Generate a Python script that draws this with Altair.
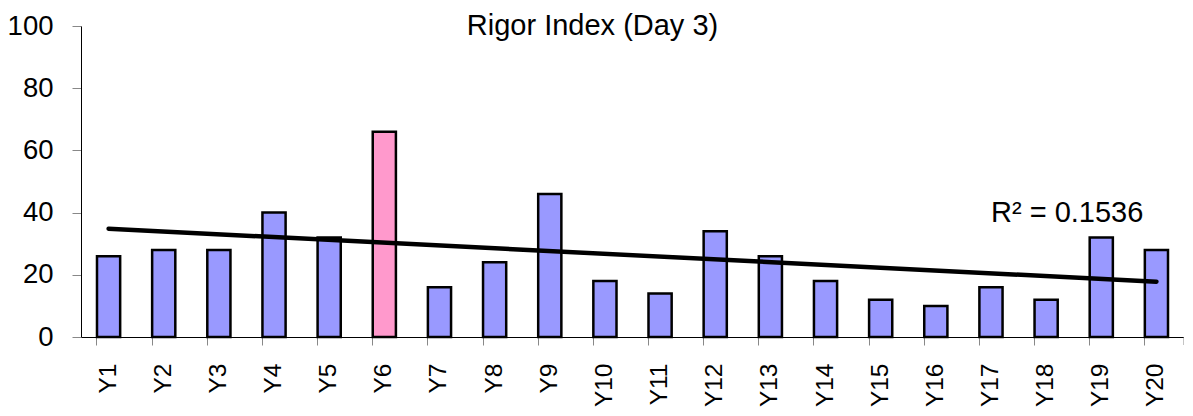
import altair as alt
import pandas as pd

categories = ["Y1", "Y2", "Y3", "Y4", "Y5", "Y6", "Y7", "Y8", "Y9", "Y10",
              "Y11", "Y12", "Y13", "Y14", "Y15", "Y16", "Y17", "Y18", "Y19", "Y20"]
values = [26, 28, 28, 40, 32, 66, 16, 24, 46, 18,
          14, 34, 26, 18, 12, 10, 16, 12, 32, 28]
positions = list(range(1, len(categories) + 1))
highlight = "Y6"
title_text = "Rigor Index (Day 3)"
r2_text = "R\u00b2 = 0.1536"
y_ticks = [0, 20, 40, 60, 80, 100]

FONT = "Liberation Sans"
W, H = 1103, 311
X_DOMAIN = [0.5, len(categories) + 0.5]

df = pd.DataFrame({"cat": categories, "value": values, "idx": positions})

bars = alt.Chart(df).mark_bar(stroke="black", strokeWidth=2.5).encode(
    x=alt.X("cat:N", sort=categories,
            scale=alt.Scale(paddingInner=0.58, paddingOuter=0.29),
            axis=alt.Axis(title=None, labelAngle=-90, labelFontSize=24.5, labelFont=FONT,
                          labelColor="black", labelPadding=18, tickSize=8,
                          tickColor="#888888", domainColor="black", bandPosition=0,
                          grid=False)),
    y=alt.Y("value:Q", scale=alt.Scale(domain=[0, 100], nice=False),
            axis=alt.Axis(title=None, values=y_ticks, labelFontSize=27.5, labelFont=FONT,
                          labelColor="black", labelPadding=19, tickSize=9,
                          tickColor="#888888", domainColor="black", grid=False)),
    color=alt.condition(alt.datum.cat == highlight, alt.value("#FF99CC"), alt.value("#9999FF")),
)

xq = alt.Scale(domain=X_DOMAIN, nice=False, zero=False)

trend = alt.Chart(df).transform_regression("idx", "value").mark_line(
    color="black", strokeWidth=4.5, strokeCap="round"
).encode(
    x=alt.X("idx:Q", scale=xq, axis=None),
    y=alt.Y("value:Q", scale=alt.Scale(domain=[0, 100], nice=False)),
)

end_tick = alt.Chart(pd.DataFrame({"e": [X_DOMAIN[1]]})).mark_rule(
    color="#888888", strokeWidth=1
).encode(x=alt.X("e:Q", scale=xq, axis=None), y=alt.value(H), y2=alt.value(H + 8))

title_df = pd.DataFrame({"t": [title_text]})
title = alt.Chart(title_df).mark_text(
    font=FONT, fontSize=29, color="black", align="center", baseline="alphabetic"
).encode(text="t:N", x=alt.value(511.5), y=alt.value(8.6))

r2_df = pd.DataFrame({"t": [r2_text]})
r2 = alt.Chart(r2_df).mark_text(
    font=FONT, fontSize=29, color="black", align="left", baseline="alphabetic"
).encode(text="t:N", x=alt.value(910), y=alt.value(196))

chart = alt.layer(bars, trend, end_tick, title, r2).resolve_scale(x="independent").properties(
    width=W, height=H,
    padding={"left": 73, "top": 18, "right": 0, "bottom": 70},
    autosize=alt.AutoSizeParams(type="none"),
).configure_view(stroke=None)

chart.save("out.html", embed_options={"renderer": "svg", "actions": False})
